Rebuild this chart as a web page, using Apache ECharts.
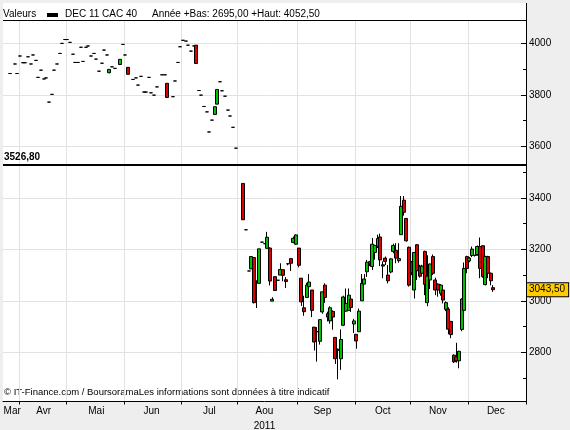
<!DOCTYPE html>
<html><head><meta charset="utf-8">
<script src="https://cdn.jsdelivr.net/npm/echarts@6/dist/echarts.min.js"></script>
<style>html,body{margin:0;padding:0;background:#eeeeee}#c{width:570px;height:430px}</style>
</head><body><div id="c"></div>
<script>
// ---- axis definitions (trading-day index, 0 = 1 April 2011) ----
const firstDay = -6, lastDay = 192;
const monthStartDay = [0, 18, 40, 62, 83, 106, 128, 149, 171];
const monthLabelDay = [-3, 9, 29, 50, 72, 93, 115, 138, 159, 181];
const monthNames = ['Mar','Avr','Mai','Jun','Jul','Aou','Sep','Oct','Nov','Dec'];
const yearLabel = '2011';
const yMajor = [2800, 3000, 3200, 3400, 3600, 3800, 4000];
const yMinor = [2700, 2900, 3100, 3300, 3500, 3700, 3900];
const yMin = 2609, yMax = 4087;
const refLevel = 3526.8;
const lastPrice = 3043.5;
const headerTitle = 'DEC 11 CAC 40';
const headerStats = 'Année +Bas: 2695,00 +Haut: 4052,50';
const footerText = '© IT-Finance.com / BoursoramaLes informations sont données à titre indicatif';

// ---- single prints (open = close = low = high) ----
const printDay = [-4,-2,-1,0,
  1,2,3,4,5,6,7,8,9,10,
  11,12,13,14,15,16,17,18,19,20,
  21,22,23,24,25,26,27,28,29,30,
  31,32,33,35,36,39,40,
  43,44,45,46,47,48,49,50,51,52,
  54,55,
  58,59,60,61,62,63,64,65,66,
  68,69,70,71,72,73,
  76,77,78,79,80,81,82,
  86,87,92,93,98];
const printValue = [3883,3920,3883,3951,
  3925,3925,3948,3920,3955,3934,3868,3896,3862,3866,
  3772,3802,3896,3920,3961,4000,4015,4015,4004,3958,
  3926,3926,3985,3930,3985,3990,3951,3961,3939,3892,
  3923,3974,3955,3909,3903,3996,3955,
  3860,3866,3838,3872,3811,3811,3868,3808,3799,3831,
  3878,3878,
  3793,3854,3926,3987,4012,4009,3993,3970,3990,
  3817,3799,3755,3734,3656,3702,
  3851,3816,3795,3741,3718,3674,3593,
  3276,3116,3228,3222,3080];

// ---- full candles ----
const candleDay = [34,38,41,56,67,74,75,85,88,89,
  90,91,94,95,96,97,99,
  100,101,102,103,104,105,106,107,108,109,
  110,111,112,113,114,115,116,117,118,119,
  120,121,122,123,124,125,126,127,128,129,
  130,131,132,133,134,135,136,137,138,139,
  140,141,142,143,144,145,146,147,148,149,
  150,151,152,153,154,155,156,157,158,159,
  160,161,162,163,164,165,166,167,168,169,
  170,171,172,173,174,175,176,177,178,179,
  180];
const candleOpen = [3886,3918,3907,3845,3993,3724,3764,3456,3124,3168,
  3077,3068,3204,3205,2999,3094,3100,
  3121,3082,3144,3164,3227,3220,3205,3088,2973,3013,
  3055,3042,2898,2880,2843,2957,3061,2950,2922,2959,
  2858,2807,2775,2905,2960,2963,3007,2910,2870,2880,
  3000,3065,3113,3152,3133,3188,3211,3248,3140,3166,
  3100,3112,3192,3196,3156,3257,3391,3320,3208,3150,
  3042,3218,3135,3107,3192,2993,3081,3172,3081,3065,
  3029,3042,2967,2968,2920,2789,2782,2767,2889,2963,
  3172,3155,3176,3176,3180,3211,3214,3063,3172,3107,
  3051];
const candleClose = [3899,3938,3880,3790,3922,3754,3821,3315,3172,2993,
  3077,3202,3247,3077,3006,3040,3122,
  3099,3075,3144,3146,3243,3256,3138,2996,2958,3061,
  3073,2963,2840,2880,2927,3035,3013,2937,2973,2937,
  2775,2812,2850,3015,2990,3022,2974,2922,2844,2960,
  3068,3085,3150,3143,3220,3215,3242,3159,3135,3153,
  3078,3163,3215,3166,3164,3367,3344,3233,3061,3110,
  3188,3117,3096,3135,3064,3096,3143,3107,3042,3042,
  3061,3003,2993,2890,2869,2763,2767,2804,3007,3126,
  3126,3166,3201,3176,3211,3126,3094,3172,3107,3078,
  3043.5];
const candleLow = [3884,3918,3880,3790,3922,3724,3764,3315,3124,2990,
  2972,3068,3204,3060,2998,3040,3100,
  3076,3050,3138,3116,3224,3218,3130,2980,2942,3013,
  3055,2937,2807,2764,2830,2950,2992,2920,2911,2888,
  2755,2695,2732,2902,2958,2963,2957,2875,2814,2880,
  3000,3065,3093,3135,3120,3160,3205,3135,3088,3139,
  3068,3107,3185,3146,3148,3257,3331,3230,3055,3100,
  3009,3081,3090,3095,3022,2979,3046,3100,3022,3016,
  3020,2990,2960,2870,2855,2759,2760,2738,2882,2960,
  3107,3150,3170,3172,3175,3088,3090,3060,3088,3060,
  3035];
const candleHigh = [3899,3938,3907,3845,3993,3754,3821,3458,3172,3170,
  3077,3202,3268,3208,3014,3094,3146,
  3121,3092,3146,3164,3250,3258,3205,3088,3020,3070,
  3104,3042,2898,2898,2927,3035,3068,2958,2979,2963,
  2858,2815,2889,3020,3048,3048,3007,2930,2870,2970,
  3104,3104,3159,3155,3244,3218,3257,3261,3153,3172,
  3139,3166,3222,3224,3224,3407,3407,3322,3211,3155,
  3190,3220,3140,3140,3195,3177,3145,3180,3090,3068,
  3065,3050,2998,2975,2922,2792,2837,2806,3010,3149,
  3175,3170,3211,3180,3215,3246,3216,3175,3175,3110,
  3061];

// ---- build category data ----
const cats = [];
for (let d = firstDay; d <= lastDay; d++) cats.push(String(d));
const ohlc = cats.map(() => '-');
printDay.forEach((d, i) => { const v = printValue[i]; ohlc[d - firstDay] = [v, v, v, v]; });
candleDay.forEach((d, i) => { ohlc[d - firstDay] = [candleOpen[i], candleClose[i], candleLow[i], candleHigh[i]]; });
const tickSet = new Set(monthStartDay.map(String));
const labelMap = {};
monthLabelDay.forEach((d, i) => { labelMap[String(d)] = monthNames[i]; });
const fmt = v => v.toFixed(2).replace('.', ',');
const FONT = 'Liberation Sans';

const chart = echarts.init(document.getElementById('c'), null, {renderer: 'canvas'});
chart.setOption({
  animation: false,
  backgroundColor: '#eeeeee',
  grid: {left: 3, right: 44, top: 21, bottom: 28.5, show: true, backgroundColor: '#ffffff', borderWidth: 0,
    containLabel: false, outerBoundsMode: 'none'},
  xAxis: {
    type: 'category', data: cats, boundaryGap: true,
    axisLine: {show: true, lineStyle: {color: '#000', width: 1}},
    axisTick: {show: true, interval: (i, v) => tickSet.has(v), length: 3, lineStyle: {color: '#000'}},
    axisLabel: {interval: (i, v) => labelMap[v] !== undefined, formatter: v => labelMap[v] || '',
      color: '#000', fontSize: 10, fontFamily: FONT, margin: 5},
    splitLine: {show: true, interval: (i, v) => tickSet.has(v), lineStyle: {color: '#e2e2e2', width: 1}},
    name: yearLabel, nameLocation: 'middle', nameGap: 17,
    nameTextStyle: {color: '#000', fontSize: 10, fontFamily: FONT}
  },
  yAxis: [{
    type: 'value', position: 'right', min: yMin, max: yMax, scale: true,
    axisLine: {show: true, lineStyle: {color: '#000', width: 1}},
    axisTick: {show: true, inside: true, length: 5, customValues: yMajor, lineStyle: {color: '#000'}},
    axisLabel: {show: true, customValues: yMajor, formatter: v => String(v), color: '#000', fontSize: 10, fontFamily: FONT, margin: 3},
    splitLine: {show: true, lineStyle: {color: '#e2e2e2', width: 1}}
  }, {
    type: 'value', position: 'right', min: yMin, max: yMax, scale: true,
    axisLine: {show: false},
    axisTick: {show: true, inside: true, length: 3, customValues: yMinor, lineStyle: {color: '#000'}},
    axisLabel: {show: true, customValues: [lastPrice], formatter: v => fmt(v), color: '#000', fontSize: 10, fontFamily: FONT,
      margin: 1, backgroundColor: '#ffcc00', borderColor: '#000', borderWidth: 1, padding: [2, 3, 1, 2]},
    splitLine: {show: false}
  }],
  series: [{
    type: 'candlestick', yAxisIndex: 0, data: ohlc, barWidth: 3.5, large: false,
    itemStyle: {color: '#00c000', color0: '#dd0000', borderColor: '#000', borderColor0: '#000', borderColorDoji: '#000', borderWidth: 1},
    emphasis: {disabled: true},
    markLine: {
      symbol: ['none', 'none'], silent: true, animation: false,
      data: [
        {yAxis: refLevel, lineStyle: {color: '#000', width: 2, type: 'solid'},
          label: {show: true, position: 'insideStartTop', formatter: fmt(refLevel), color: '#000',
            fontWeight: 'bold', fontSize: 10, fontFamily: FONT, distance: [1, 3]}}
      ]
    }
  }],
  graphic: [
    {type: 'rect', silent: true, shape: {x: 3, y: 3, width: 523, height: 18}, style: {fill: '#ffffff'}},
    {type: 'line', silent: true, shape: {x1: 3, y1: 20.5, x2: 526, y2: 20.5}, style: {stroke: '#000', lineWidth: 1}},
    {type: 'line', silent: true, shape: {x1: 526.5, y1: 3, x2: 526.5, y2: 21}, style: {stroke: '#000', lineWidth: 1}},
    {type: 'text', silent: true, x: 3, y: 14, style: {text: 'Valeurs', font: '10px "Liberation Sans"', fill: '#000', verticalAlign: 'middle'}},
    {type: 'rect', silent: true, shape: {x: 47, y: 13, width: 11, height: 4}, style: {fill: '#000'}},
    {type: 'text', silent: true, x: 65, y: 14, style: {text: headerTitle, font: '10px "Liberation Sans"', fill: '#000', verticalAlign: 'middle'}},
    {type: 'text', silent: true, x: 152, y: 14, style: {text: headerStats, font: '10px "Liberation Sans"', fill: '#000', verticalAlign: 'middle'}},
    {type: 'text', silent: true, x: 4, y: 392, style: {text: footerText, font: '9.5px "Liberation Sans"', fill: '#000', verticalAlign: 'middle'}}
  ]
});
</script></body></html>
